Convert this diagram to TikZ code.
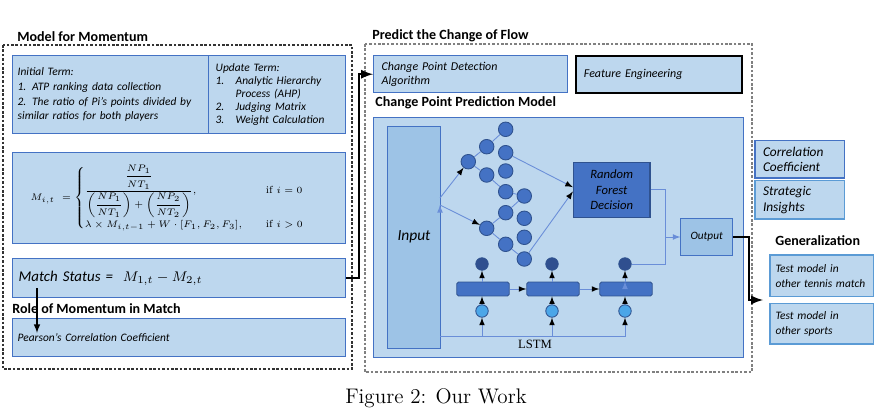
\documentclass[tikz,border=0pt]{standalone}
\usepackage{amsmath,graphicx,fontspec,tikz}
\newfontfamily\handfont{Carlito}
\newfontfamily\timesfont{Liberation Serif}

\definecolor{boxfill}{HTML}{BDD7EE}
\definecolor{boxline}{HTML}{4472C4}
\definecolor{lightline}{HTML}{5B9BD5}
\definecolor{inputfill}{HTML}{9DC3E6}
\definecolor{nodefill}{HTML}{4472C4}
\definecolor{nodeline}{HTML}{2F528F}
\definecolor{topfill}{HTML}{2F4F8F}
\definecolor{botfill}{HTML}{4BA6E8}
\definecolor{flowline}{HTML}{6A8ED8}

\tikzset{
	bluebox/.style={draw=boxline,fill=boxfill,line width=0.8pt,anchor=north west,inner ysep=0pt,align=left,font=\handfont\itshape\fontsize{6.5}{8.3}\selectfont},
	title/.style={anchor=base west,inner sep=0pt,font=\handfont\bfseries\fontsize{8}{9}\selectfont},
	neuron/.style={circle,draw=nodeline,fill=nodefill,line width=0.5pt,minimum size=0.29cm,inner sep=0pt},
	topnode/.style={circle,draw=nodeline,fill=topfill,line width=0.5pt,minimum size=0.25cm,inner sep=0pt},
	botnode/.style={circle,draw=nodeline,fill=botfill,line width=0.5pt,minimum size=0.25cm,inner sep=0pt},
	cell/.style={rectangle,rounded corners=1pt,draw=nodeline,fill=nodefill,line width=0.5pt,minimum width=1.05cm,minimum height=0.28cm},
	flow/.style={draw=flowline,line width=0.5pt},
	bigarrow/.style={->,line width=1.3pt,black},
	leftdash/.style={draw=black!80,line width=0.6pt,dash pattern=on 1.5pt off 1pt},
	rightdash/.style={draw=black!50,line width=0.6pt,dash pattern=on 1.5pt off 1pt}
}

\begin{document}
\begin{tikzpicture}[x=0.02cm,y=-0.02cm,>=latex]
	\useasboundingbox (0,0) rectangle (877,419);

	% model for momentum
	\draw[leftdash] (3,45) rectangle (352,369);
	\node[title] (ttlmom) at (17,41) {Model for Momentum};
	\node[bluebox,text width=3.72cm,inner xsep=0.1cm,minimum height=1.56cm] (init) at (12,55) {Initial Term:\\1. ATP ranking data collection\\2. The ratio of Pi’s points divided by\\similar ratios for both players};
	\node[bluebox,text width=2.46cm,inner xsep=0.14cm,minimum height=1.56cm,font=\handfont\itshape\fontsize{6.5}{7.4}\selectfont] (upd) at (208,55) {Update Term:\\\makebox[0.4cm][l]{1.}Analytic Hierarchy\\\hspace*{0.4cm}Process (AHP)\\\makebox[0.4cm][l]{2.}Judging Matrix\\\makebox[0.4cm][l]{3.}Weight Calculation};
	\node[bluebox,inner xsep=0.36cm,minimum height=1.82cm,font=\fontsize{6.5}{7.5}\selectfont] (mom) at (12,152) {\makebox[5.94cm][l]{\scalebox{0.9}{$M_{i,t}\ = \begin{cases} \dfrac{\dfrac{NP_1}{NT_1}}{\left(\dfrac{NP_1}{NT_1}\right)+\left(\dfrac{NP_2}{NT_2}\right)}, & \hspace{1.3em}\mathrm{if}\ i=0\\[2pt] \lambda\times M_{i,t-1}+W\cdot[F_1,F_2,F_3], & \hspace{1.3em}\mathrm{if}\ i>0 \end{cases}$}}};
	\node[bluebox,text width=6.42cm,inner xsep=0.12cm,minimum height=0.78cm,font=\handfont\itshape\fontsize{8.5}{10}\selectfont] (status) at (12,258) {Match Status =~~$M_{1,t}-M_{2,t}$};
	\node[title] (ttlrole) at (12,313) {Role of Momentum in Match};
	\node[bluebox,text width=6.46cm,inner xsep=0.1cm,minimum height=0.76cm] (pear) at (12,318) {Pearson’s Correlation Coefficient};
	\coordinate (mstop) at (37,288);
	\coordinate (pearin) at (37,333);
	\draw[->,line width=0.7pt] (mstop) -- (pearin);

	% predict the change of flow
	\draw[rightdash] (365,44) rectangle (752,372);
	\node[title] (ttlflow) at (372,39) {Predict the Change of Flow};
	\node[bluebox,text width=3.56cm,inner xsep=0.16cm,minimum height=0.74cm,font=\handfont\itshape\fontsize{6.8}{7.8}\selectfont] (cpd) at (373,55) {Change Point Detection\\Algorithm};
	\node[bluebox,draw=black,line width=1.1pt,text width=3.0cm,inner xsep=0.16cm,minimum height=0.74cm,font=\handfont\itshape\fontsize{6.8}{7.8}\selectfont] (feat) at (575,55) {Feature Engineering};
	\node[title] (ttlcpm) at (375,106) {Change Point Prediction Model};
	\node[bluebox,minimum width=7.4cm,minimum height=4.8cm] (model) at (373,117) {};
	\node[bluebox,fill=inputfill,line width=0.6pt,align=center,minimum width=1.07cm,minimum height=4.44cm,font=\handfont\itshape\fontsize{8.8}{10}\selectfont] (input) at (386.7,125.7) {Input};

	% random forest part
	\node[neuron] (n1) at (505.7,129.3) {};
	\node[neuron] (n2) at (486.7,146.7) {};
	\node[neuron] (n3) at (505.7,152.7) {};
	\node[neuron] (n4) at (468.3,161.7) {};
	\node[neuron] (n5) at (486.7,175) {};
	\node[neuron] (n6) at (505.7,171) {};
	\node[neuron] (n7) at (505.7,191.7) {};
	\node[neuron] (n8) at (524.3,196) {};
	\node[neuron] (n9) at (505.7,212.7) {};
	\node[neuron] (n10) at (524.3,218.3) {};
	\node[neuron] (n11) at (486.7,228.3) {};
	\node[neuron] (n12) at (524.3,237.3) {};
	\node[neuron] (n13) at (505.7,244.3) {};
	\node[neuron] (n14) at (524.3,259) {};
	\node[draw=nodeline,fill=nodefill,line width=0.7pt,align=center,minimum width=1.53cm,minimum height=1.1cm,font=\handfont\itshape\fontsize{7.2}{8.8}\selectfont] (rf) at (611.7,189.8) {Random\\Forest\\Decision};
	\node[draw=boxline,fill=inputfill,line width=0.6pt,minimum width=1.03cm,minimum height=0.75cm,font=\handfont\itshape\fontsize{6.4}{7.5}\selectfont] (out) at (706.7,237) {Output};
	\coordinate (ina) at (440,198);
	\coordinate (inb) at (440,205);
	\path[flow]
		(n4) edge (n2)
			edge (n5)
		(n2) edge (n1)
		(n5) edge (n7)
		(n7) edge (n8)
		(n9) edge (n8)
		(n11) edge (n9)
			edge (n13)
		(n13) edge (n14);
	\path[flow,->]
		(ina) edge (n4)
		(inb) edge (n11)
		(n3) edge ([yshift=1.5pt]rf.west)
		(n14) edge ([yshift=-1pt]rf.west);

	% lstm part
	\node[cell] (c1) at (483,289) {};
	\node[cell] (c2) at (553,289) {};
	\node[cell] (c3) at (626,289) {};
	\node[topnode] (t1) at (482,264) {};
	\node[topnode] (t2) at (552,264) {};
	\node[topnode] (t3) at (625,264) {};
	\node[botnode] (b1) at (482,311) {};
	\node[botnode] (b2) at (552,311) {};
	\node[botnode] (b3) at (625,311) {};
	\coordinate (l0) at (440,336.7);
	\coordinate (l1) at (482,336.7);
	\coordinate (l2) at (552,336.7);
	\coordinate (l3) at (625,336.7);
	\draw[flow] (l0) -- (l3);
	\path[flow,->]
		(l1) edge (b1)
		(l2) edge (b2)
		(l3) edge (b3)
		(b1) edge (b1 |- c1.south)
		(b2) edge (b2 |- c2.south)
		(b3) edge (b3 |- c3.south)
		(t1 |- c1.north) edge (t1)
		(t2 |- c2.north) edge (t2)
		(t3 |- c3.north) edge (t3)
		(c1) edge (c2)
		(c2) edge (c3);
	\node[font=\timesfont\fontsize{7.2}{8}\selectfont] (lstmlbl) at (535,344) {LSTM};
	\coordinate (join) at (665.7,237);
	\draw[flow,->] (rf.east) -| (join) -- (out.west);
	\draw[flow] (t3.east) -| (join);

	% results
	\node[bluebox,text width=1.47cm,inner xsep=0.16cm,minimum height=0.75cm,font=\handfont\itshape\fontsize{7.6}{8.8}\selectfont] (corr) at (754.3,140) {Correlation\\Coefficient};
	\node[bluebox,draw=lightline,text width=1.47cm,inner xsep=0.16cm,minimum height=0.77cm,font=\handfont\itshape\fontsize{7.6}{8.8}\selectfont] (strat) at (754.3,180) {Strategic\\Insights};
	\node[title] (ttlgen) at (775,245) {Generalization};
	\node[bluebox,draw=lightline,text width=1.85cm,inner xsep=0.11cm,minimum height=0.83cm,font=\handfont\itshape\fontsize{6.5}{8.6}\selectfont] (gen1) at (769.3,254.3) {Test model in\\other tennis match};
	\node[bluebox,draw=lightline,text width=1.85cm,inner xsep=0.11cm,minimum height=0.81cm,font=\handfont\itshape\fontsize{6.5}{8.6}\selectfont] (gen2) at (769.3,302.7) {Test model in\\other sports};

	% thick connectors
	\coordinate (gentip) at (763,300);
	\draw[bigarrow] (status.east) -- ++(13,0) |- (cpd.west);
	\draw[bigarrow] (out.east) -- ++(16,0) |- (gentip);

	\node[font=\fontsize{12}{14}\selectfont] (caption) at (436,398) {Figure 2: Our Work};
\end{tikzpicture}
\end{document}
